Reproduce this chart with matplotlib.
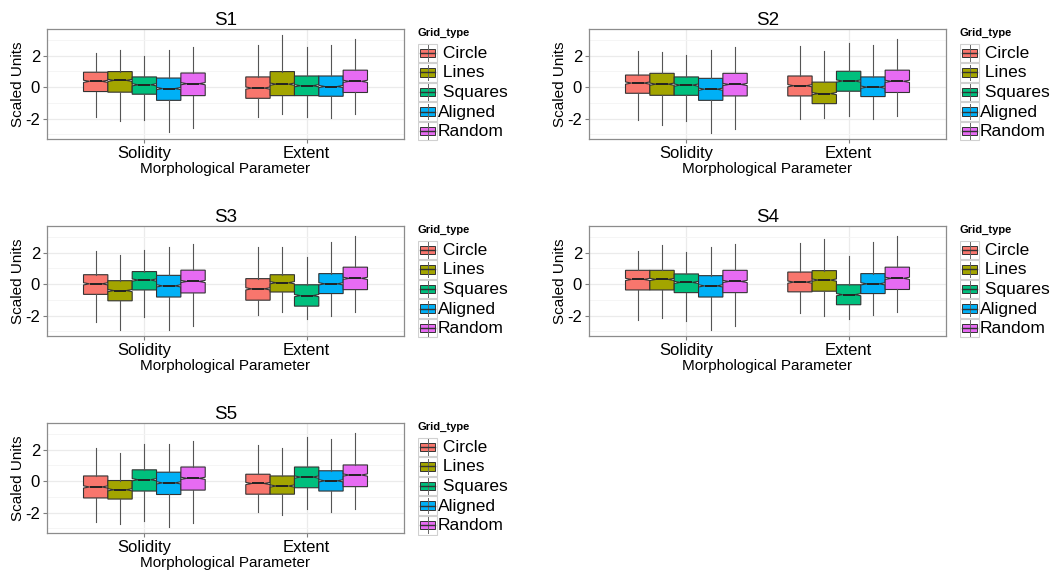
import numpy as np
import matplotlib
matplotlib.use("Agg")
import matplotlib.pyplot as plt
from matplotlib.patches import Rectangle

plt.rcParams['font.family'] = ['Liberation Sans', 'DejaVu Sans']

grid_types = [" Circle", " Lines", " Squares", "Aligned", "Random"]
colors = ["#F8766D", "#A3A500", "#00BF7D", "#00B0F6", "#E76BF3"]
params = ["Solidity", "Extent"]
panels = ["S1", "S2", "S3", "S4", "S5"]

# each row: [lower whisker, q1, median, q3, upper whisker], one per grid type
S1_solidity = [[-1.89, -0.28, 0.37, 0.95, 2.17],
               [-2.17, -0.32, 0.43, 0.99, 2.37],
               [-2.06, -0.45, 0.15, 0.65, 1.96],
               [-2.86, -0.84, -0.09, 0.58, 2.37],
               [-2.58, -0.54, 0.22, 0.90, 2.58]]
S1_extent = [[-1.89, -0.71, -0.06, 0.65, 2.69],
             [-1.74, -0.54, 0.19, 0.99, 3.31],
             [-1.89, -0.54, 0.09, 0.71, 2.54],
             [-1.96, -0.58, 0.04, 0.71, 2.69],
             [-1.74, -0.34, 0.37, 1.08, 3.08]]
S2_solidity = [[-2.09, -0.39, 0.26, 0.77, 2.30],
               [-2.43, -0.52, 0.19, 0.88, 2.24],
               [-2.15, -0.52, 0.13, 0.65, 2.02],
               [-2.92, -0.84, -0.13, 0.56, 2.37],
               [-2.67, -0.56, 0.17, 0.88, 2.58]]
S2_extent = [[-2.00, -0.56, 0.09, 0.71, 2.62],
             [-1.96, -1.05, -0.41, 0.32, 2.28],
             [-1.81, -0.26, 0.39, 1.01, 2.80],
             [-2.00, -0.60, 0.00, 0.65, 2.67],
             [-1.81, -0.34, 0.37, 1.08, 3.05]]
S3_solidity = [[-2.38, -0.65, 0.02, 0.60, 2.12],
               [-2.92, -1.06, -0.41, 0.22, 1.86],
               [-2.07, -0.37, 0.26, 0.80, 2.18],
               [-2.92, -0.82, -0.11, 0.56, 2.35],
               [-2.68, -0.56, 0.17, 0.89, 2.55]]
S3_extent = [[-1.97, -1.02, -0.30, 0.35, 2.38],
             [-1.75, -0.50, 0.09, 0.60, 2.38],
             [-2.20, -1.40, -0.73, -0.04, 1.75],
             [-2.00, -0.60, 0.02, 0.67, 2.70],
             [-1.79, -0.35, 0.37, 1.08, 3.07]]
S4_solidity = [[-2.28, -0.37, 0.30, 0.88, 2.11],
               [-2.17, -0.37, 0.30, 0.88, 2.47],
               [-2.34, -0.54, 0.11, 0.65, 2.06],
               [-2.90, -0.82, -0.11, 0.54, 2.37],
               [-2.67, -0.54, 0.17, 0.88, 2.56]]
S4_extent = [[-1.83, -0.49, 0.13, 0.77, 2.62],
             [-2.04, -0.45, 0.26, 0.86, 2.90],
             [-2.19, -1.31, -0.67, -0.04, 1.81],
             [-1.98, -0.60, 0.02, 0.67, 2.69],
             [-1.78, -0.34, 0.37, 1.08, 3.05]]
S5_solidity = [[-2.60, -1.07, -0.37, 0.33, 2.08],
               [-2.74, -1.14, -0.55, 0.04, 1.77],
               [-2.56, -0.63, 0.09, 0.72, 2.39],
               [-2.91, -0.85, -0.11, 0.57, 2.39],
               [-2.67, -0.57, 0.18, 0.90, 2.56]]
S5_extent = [[-1.95, -0.83, -0.15, 0.44, 2.30],
             [-2.17, -0.83, -0.31, 0.33, 2.10],
             [-1.79, -0.42, 0.26, 0.90, 2.78],
             [-1.95, -0.63, 0.02, 0.66, 2.67],
             [-1.77, -0.35, 0.39, 1.03, 3.06]]

panel_data = {"S1": (S1_solidity, S1_extent), "S2": (S2_solidity, S2_extent),
              "S3": (S3_solidity, S3_extent), "S4": (S4_solidity, S4_extent),
              "S5": (S5_solidity, S5_extent)}

W, H = 1053, 576
fig = plt.figure(figsize=(W / 100, H / 100), dpi=100)

# panel plot areas in pixels: left, top, right, bottom
boxes_px = {"S1": (47, 29, 404, 139), "S2": (589, 29, 946, 139),
            "S3": (47, 226, 404, 336), "S4": (589, 226, 946, 336),
            "S5": (47, 423, 404, 533)}

notch = 0.07
bw = 0.15
offsets = [-0.3, -0.15, 0.0, 0.15, 0.3]


def draw_legend(x0, ytop):
    fig.text(x0 / W, 1 - (ytop + 4) / H, "Grid_type", fontsize=8, fontweight='bold',
             ha='left', va='center')
    lax = fig.add_axes([x0 / W, 1 - (ytop + 113) / H, 120 / W, 99 / H])
    lax.axis('off')
    for i, (g, c) in enumerate(zip(grid_types, colors)):
        y = 19.6 * i
        lax.add_patch(Rectangle((0, y + 0.5), 19, 18.6, facecolor='white', edgecolor='#D0D0D0', lw=0.8))
        lax.plot([9.5, 9.5], [y + 2, y + 17.5], color='#666666', lw=0.7)
        lax.add_patch(Rectangle((2, y + 5.5), 15, 8.5, facecolor=c, edgecolor='#333333', lw=0.7))
        lax.plot([2, 17], [y + 9.8, y + 9.8], color='#333333', lw=1.0)
        lax.text(20, y + 10.3, g, fontsize=12.5, ha='left', va='center')
    lax.set_xlim(0, 120)
    lax.set_ylim(99, 0)


for name in panels:
    l, t, r, b = boxes_px[name]
    ax = fig.add_axes([l / W, 1 - b / H, (r - l) / W, (b - t) / H])
    for j, series in enumerate(panel_data[name]):
        for k, vals in enumerate(series):
            lo, q1, med, q3, hi = vals
            st = dict(whislo=lo, q1=q1, med=med, q3=q3, whishi=hi,
                      cilo=med - notch, cihi=med + notch, fliers=[])
            ax.bxp([st], positions=[j + 1 + offsets[k]], widths=bw, patch_artist=True,
                   shownotches=True, showcaps=False, showfliers=False,
                   boxprops=dict(facecolor=colors[k], edgecolor='#333333', lw=0.8),
                   medianprops=dict(color='#222222', lw=1.4),
                   whiskerprops=dict(color='#555555', lw=0.8), manage_ticks=False)
    ax.set_xlim(0.4, 2.6)
    ax.set_ylim(-3.3, 3.7)
    ax.set_xticks([1, 2])
    ax.set_xticklabels(params, fontsize=12)
    ax.set_yticks([-2, 0, 2])
    ax.set_yticklabels(["-2", "0", "2"], fontsize=12)
    ax.set_yticks([-3, -1, 1, 3], minor=True)
    ax.grid(True, which='major', color='#EBEBEB', lw=0.9)
    ax.grid(True, which='minor', axis='y', color='#F4F4F4', lw=0.6)
    ax.set_axisbelow(True)
    ax.tick_params(which='major', length=3, color='#7F7F7F', pad=2)
    ax.tick_params(which='minor', length=0)
    for s in ax.spines.values():
        s.set_color('#8C8C8C')
        s.set_linewidth(0.9)
    ax.set_title(name, fontsize=13.5, pad=3)
    ax.set_ylabel("Scaled Units", fontsize=11, labelpad=0)
    ax.set_xlabel("Morphological Parameter", fontsize=11, labelpad=1)
    draw_legend(r + 14, t)

fig.savefig("out.png", dpi=100)
